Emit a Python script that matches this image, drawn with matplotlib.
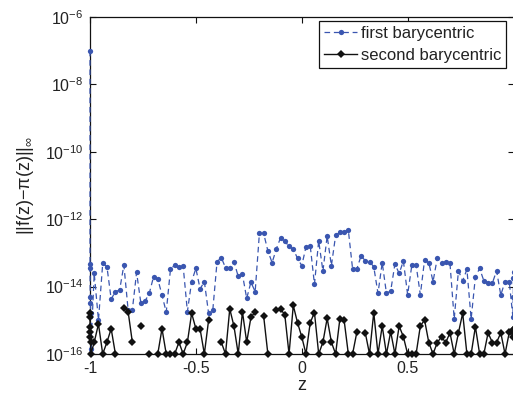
import numpy as np
import matplotlib
matplotlib.use('Agg')
import matplotlib.pyplot as plt
from matplotlib.ticker import NullLocator, FixedLocator

plt.rcParams['font.family'] = ['Liberation Sans', 'DejaVu Sans']
plt.rcParams['mathtext.fontset'] = 'custom'
plt.rcParams['mathtext.rm'] = 'Liberation Sans'
plt.rcParams['mathtext.it'] = 'Liberation Sans:italic'
plt.rcParams['mathtext.bf'] = 'Liberation Sans:bold'
plt.rcParams['axes.unicode_minus'] = False

# ---------------- data (log10 of the error) ----------------
# clustered evaluation points at the left end (all visually at z = -1)
z_left = [-1.0, -0.99999, -0.9999, -0.999, -0.998, -0.997, -0.996]
first_left = [-7.0, -13.34, -13.44, -14.30, -14.48, -14.77, -15.85]
second_left = [-14.79, -14.89, -15.19, -15.34, -15.49, -15.64, -16.0]

# regular points z = -0.98 ... 0.98
z_grid = np.round(np.linspace(-0.98, 0.98, 99), 2)
first_grid = [
    -13.61, -15.00, -13.31, -13.41, -14.37, -14.15, -14.10, -13.36, -14.69, -14.69,
    -13.58, -14.48, -14.43, -14.20, -13.71, -13.77, -14.25, -14.76, -13.49, -13.36,
    -13.43, -13.40, -14.74, -13.85, -13.46, -14.07, -13.85, -14.79, -14.69, -13.26,
    -13.14, -13.44, -13.44, -13.26, -13.70, -13.64, -14.35, -13.87, -14.15, -12.42,
    -12.42, -12.94, -13.29, -12.88, -12.55, -12.65, -12.81, -12.89, -13.16, -13.38,
    -12.82, -12.79, -13.93, -12.64, -13.54, -12.50, -13.38, -12.48, -12.39, -12.37,
    -12.33, -13.47, -13.48, -13.09, -13.23, -13.26, -13.41, -14.20, -13.29, -14.20,
    -14.13, -13.33, -13.61, -13.24, -14.24, -13.36, -13.36, -14.24, -13.21, -13.29,
    -13.85, -13.16, -13.31, -13.26, -13.31, -14.96, -13.53, -13.83, -13.49, -14.96,
    -13.71, -13.46, -13.83, -13.88, -13.90, -13.53, -14.25, -13.85, -13.85,
]
nan = np.nan
second_grid = [
    -15.65, -15.11, -16.00, -15.65, -15.25, -16.00, nan, -14.63, -14.74, -15.65,
    nan, -15.18, nan, -16.00, nan, -16.00, -15.25, -16.00, -16.00, -16.00,
    -15.65, -16.00, -15.65, -14.79, -15.25, -15.26, -16.00, -15.00, nan, nan,
    -15.65, -16.00, -14.66, -15.18, -16.00, -14.75, -15.65, -14.91, -14.75, nan,
    -14.87, -16.00, nan, -14.68, -14.66, -14.84, -16.00, -14.56, -15.07, -15.49,
    -16.00, -15.07, -14.77, -16.00, -15.65, -14.94, -15.65, -16.00, -14.96, -14.99,
    -16.00, -16.00, -15.36, nan, -15.37, -16.00, -14.77, -16.00, -15.17, -16.00,
    -15.34, -16.00, -15.17, -15.49, -16.00, -16.00, -16.00, -15.17, -14.99, -15.66,
    -16.00, -15.66, -15.49, -15.66, -15.37, -16.00, -15.37, -14.79, -16.00, -16.00,
    -15.19, -16.00, -16.00, -15.37, -15.66, -15.66, -15.37, -16.00, -15.36,
]

# clustered evaluation points at the right end (visually at z = 1)
z_right = [0.997, 0.999, 0.9999, 1.0]
first_right = [-14.90, -14.30, -13.75, -13.56]
second_right = [-15.50, -15.36, -15.30, -15.26]

series_names = ['first barycentric', 'second barycentric']
xtick_vals = [-1, -0.5, 0, 0.5, 1]
xtick_labels = ['-1', '-0.5', '0', '0.5', '']
ytick_vals = [1e-16, 1e-14, 1e-12, 1e-10, 1e-8, 1e-6]

z = np.concatenate([z_left, z_grid, z_right])
first = 10.0 ** np.array(first_left + first_grid + first_right, dtype=float)
second = 10.0 ** np.array(second_left + second_grid + second_right, dtype=float)

# ---------------- figure ----------------
W, H = 513, 404
fig = plt.figure(figsize=(W / 100, H / 100), dpi=100)
ax = fig.add_axes([90 / W, (H - 354) / H, 423.5 / W, 337 / H])

blue = '#3a56b0'
ax.plot(z, first, linestyle='--', dashes=(4.5, 3), color=blue, lw=0.9,
        marker='o', markersize=3.8, markeredgewidth=0, label=series_names[0],
        clip_on=False, zorder=3)
ax.plot(z, second, linestyle='-', color='#111111', lw=1.0,
        marker='D', markersize=4.3, markeredgewidth=0, label=series_names[1],
        clip_on=False, zorder=4)

ax.set_yscale('log')
ax.set_xlim(-1, 1)
ax.set_ylim(1e-16, 1e-6)
ax.yaxis.set_major_locator(FixedLocator(ytick_vals))
ax.yaxis.set_minor_locator(NullLocator())
ax.set_xticks(xtick_vals)
ax.set_xticklabels(xtick_labels)
ax.tick_params(direction='in', top=True, right=True, length=4, width=0.8,
               labelsize=11.5, pad=5, colors='#111111')
ax.tick_params(axis='x', labelcolor='#222222')
ax.tick_params(axis='y', labelcolor='#222222')
for s in ax.spines.values():
    s.set_linewidth(0.9)
    s.set_color('#111111')

ax.set_xlabel('z', fontsize=13, labelpad=1, color='#222222')
ax.set_ylabel(r'$\mathregular{||f(z){-}\pi(z)||_\infty}$', fontsize=13,
              labelpad=6, color='#222222')

leg = ax.legend(loc='upper right', bbox_to_anchor=(0.982, 0.988), fontsize=12,
                frameon=True, fancybox=False, framealpha=1, edgecolor='#111111',
                handlelength=2.0, handletextpad=0.2, borderpad=0.3,
                labelspacing=0.4, borderaxespad=0.0, numpoints=1)
leg.get_frame().set_linewidth(0.9)
for t in leg.get_texts():
    t.set_color('#222222')

fig.savefig('out.png', dpi=100)
